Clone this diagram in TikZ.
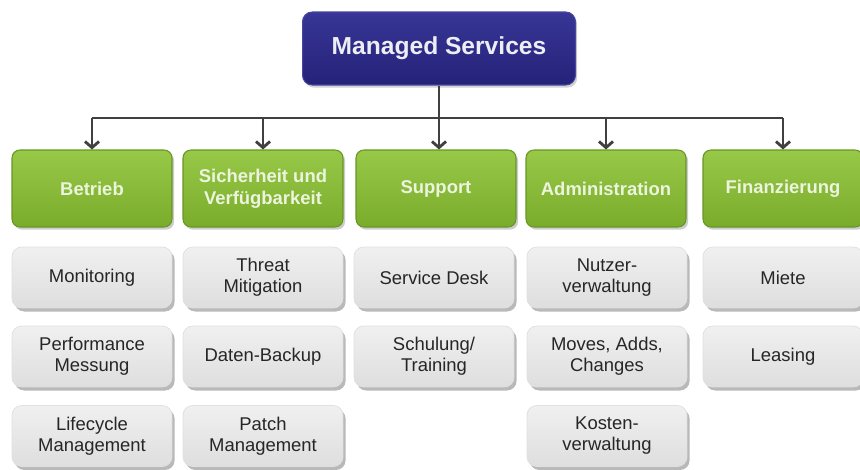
\documentclass[tikz,border=0pt]{standalone}
\usepackage{fontspec}
\setmainfont{Liberation Sans}
\usetikzlibrary{arrows.meta,shadows}
\definecolor{navy}{RGB}{36,34,120}
\definecolor{navytop}{RGB}{56,54,150}
\definecolor{navyline}{RGB}{70,70,160}
\definecolor{grn}{RGB}{122,172,44}
\definecolor{grntop}{RGB}{152,200,72}
\definecolor{grnline}{RGB}{104,150,36}
\definecolor{grntext}{RGB}{236,244,222}
\definecolor{itemtop}{RGB}{240,240,240}
\definecolor{itembot}{RGB}{222,222,222}
\begin{document}
\begin{tikzpicture}[x=0.02cm,y=-0.02cm,
	head/.style={draw=navyline,line width=0.6pt,rounded corners=5.5pt,top color=navytop,bottom color=navy,
		minimum width=5.46cm,minimum height=1.46cm,text=white!92!navy,
		font=\fontsize{14}{16}\selectfont\bfseries,drop shadow={shadow xshift=1pt,shadow yshift=-1.5pt,opacity=0.35}},
	cat/.style={draw=grnline,line width=0.6pt,rounded corners=4.5pt,top color=grntop,bottom color=grn,
		minimum width=3.2cm,minimum height=1.54cm,text=grntext,align=center,
		font=\fontsize{10.5}{12.5}\selectfont\bfseries,drop shadow={shadow xshift=1.2pt,shadow yshift=-1.5pt,opacity=0.4}},
	item/.style={draw=black!12,line width=0.4pt,rounded corners=5.5pt,top color=itemtop,bottom color=itembot,
		minimum width=3.2cm,minimum height=1.22cm,text=black!85,align=center,
		font=\fontsize{10.5}{12}\selectfont,drop shadow={shadow xshift=1.5pt,shadow yshift=-2pt,opacity=0.55}},
	conn/.style={draw=black!75,line width=0.9pt},
	arr/.style={conn,-{Straight Barb[length=3.5pt,width=8pt,line width=1.6pt]}}]
	\clip (0,0) rectangle (860,470);
	\fill[white] (0,0) rectangle (860,470);
	% top
	\node[head] (ms) at (439,48.5) {Managed Services};
	% categories
	\node[cat] (betr) at (92,188.5) {Betrieb};
	\node[cat] (sich) at (263,188.5) {Sicherheit und\\Verfügbarkeit};
	\node[cat] (supp) at (436,188.5) {Support};
	\node[cat] (admin) at (606,188.5) {Administration};
	\node[cat] (fin) at (783,188.5) {Finanzierung};
	% connectors
	\coordinate (bus) at (439,118);
	\draw[conn] (ms.south) -- (bus);
	\draw[conn] (betr |- bus) -- (fin |- bus);
	\draw[arr] (betr |- bus) -- (betr.north);
	\draw[arr] (sich |- bus) -- (sich.north);
	\draw[arr] (bus) -- (bus |- supp.north);
	\draw[arr] (admin |- bus) -- (admin.north);
	\draw[arr] (fin |- bus) -- (fin.north);
	% items
	\node[item] (mon) at (92,277.5) {Monitoring};
	\node[item] (perf) at (92,356.5) {Performance\\Messung};
	\node[item] (life) at (92,436) {Lifecycle\\Management};
	\node[item] (threat) at (263,277.5) {Threat\\Mitigation};
	\node[item] (daten) at (263,356.5) {Daten-Backup};
	\node[item] (patch) at (263,436) {Patch\\Management};
	\node[item] (desk) at (434,277.5) {Service Desk};
	\node[item] (schul) at (434,356.5) {Schulung/\\Training};
	\node[item] (nutz) at (607,277.5) {Nutzer-\\verwaltung};
	\node[item] (mac) at (607,356.5) {Moves, Adds,\\Changes};
	\node[item] (kost) at (607,436) {Kosten-\\verwaltung};
	\node[item] (miete) at (783,277.5) {Miete};
	\node[item] (leas) at (783,356.5) {Leasing};
\end{tikzpicture}
\end{document}
